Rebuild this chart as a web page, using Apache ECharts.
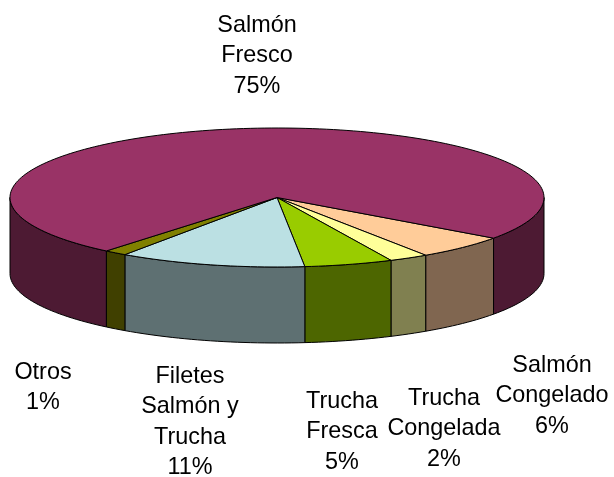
<!DOCTYPE html>
<html>
<head>
<meta charset="utf-8">
<style>
  html, body { margin: 0; padding: 0; background: #fff; }
  #chart { width: 614px; height: 477px; }
</style>
<script src="https://cdn.jsdelivr.net/npm/echarts@6/dist/echarts.min.js"></script>
</head>
<body>
<div id="chart"></div>
<script>
// clockwise from the Salmon Fresco / Salmon Congelado edge, see startAngle
var categories = ['Salmón\nCongelado', 'Trucha\nCongelada', 'Trucha\nFresca', 'Filetes\nSalmón y\nTrucha', 'Otros', 'Salmón\nFresco']
var shares = [5.7, 2.4, 5.4, 11.4, 1.4, 74.5]
var topColors = ['#FFCC99', '#FFFF99', '#99CC00', '#BBE0E3', '#808000', '#993366']
var wallColors = ['#806650', '#808050', '#4D6600', '#5E7072', '#404000', '#4D1A33']
var labelSpots = [[552, 350], [444, 383], [342, 386], [190, 361], [43, 357], [257, 10]]

// pie geometry in px
var cx = 277
var cy = 197.5
var rx = 267
var ry = 69.5
var depth = 76
var startAngle = 35.8

var total = shares.reduce(function (a, b) { return a + b }, 0)

function rim(deg, drop) {
  var r = deg * Math.PI / 180
  return [cx + rx * Math.cos(r), cy + ry * Math.sin(r) + (drop || 0)]
}

function arcPoints(from, to, drop) {
  var pts = []
  var n = Math.max(2, Math.ceil((to - from) / 1.5))
  for (var i = 0; i <= n; i++) {
    pts.push(rim(from + (to - from) * i / n, drop))
  }
  return pts
}

// only the part of the rim facing us (0-180 deg, or 360-540 after a wrap) gets a wall
function wallRanges(from, to) {
  var out = []
  ;[[0, 180], [360, 540]].forEach(function (v) {
    var a = Math.max(from, v[0])
    var b = Math.min(to, v[1])
    if (b > a) out.push([a, b])
  })
  return out
}

var lineStyle = { stroke: '#000', lineWidth: 1, lineJoin: 'round' }

function renderSlice(params, api) {
  var i = params.dataIndex
  var before = 0
  for (var k = 0; k < i; k++) before += shares[k]
  var from = startAngle + before / total * 360
  var to = from + api.value(0) / total * 360
  var children = []

  wallRanges(from, to).forEach(function (range) {
    var pts = arcPoints(range[0], range[1], 0).concat(arcPoints(range[0], range[1], depth).reverse())
    children.push({
      type: 'polygon',
      shape: { points: pts },
      style: Object.assign({ fill: wallColors[i] }, lineStyle)
    })
  })
  children.push({
    type: 'polygon',
    z2: 5,
    shape: { points: [[cx, cy]].concat(arcPoints(from, to, 0)) },
    style: Object.assign({ fill: topColors[i] }, lineStyle)
  })
  children.push({
    type: 'text',
    z2: 10,
    style: {
      text: categories[i] + '\n' + Math.round(api.value(0)) + '%',
      x: labelSpots[i][0],
      y: labelSpots[i][1],
      fill: '#000',
      font: '23.4px "Liberation Sans", Arial, sans-serif',
      align: 'center',
      verticalAlign: 'top',
      lineHeight: 30.5
    }
  })
  return { type: 'group', children: children }
}

var chart = echarts.init(document.getElementById('chart'))
chart.setOption({
  backgroundColor: '#fff',
  animation: false,
  series: [
    {
      type: 'custom',
      coordinateSystem: 'none',
      renderItem: renderSlice,
      data: shares.map(function (v) { return [v] })
    }
  ]
})
</script>
</body>
</html>
